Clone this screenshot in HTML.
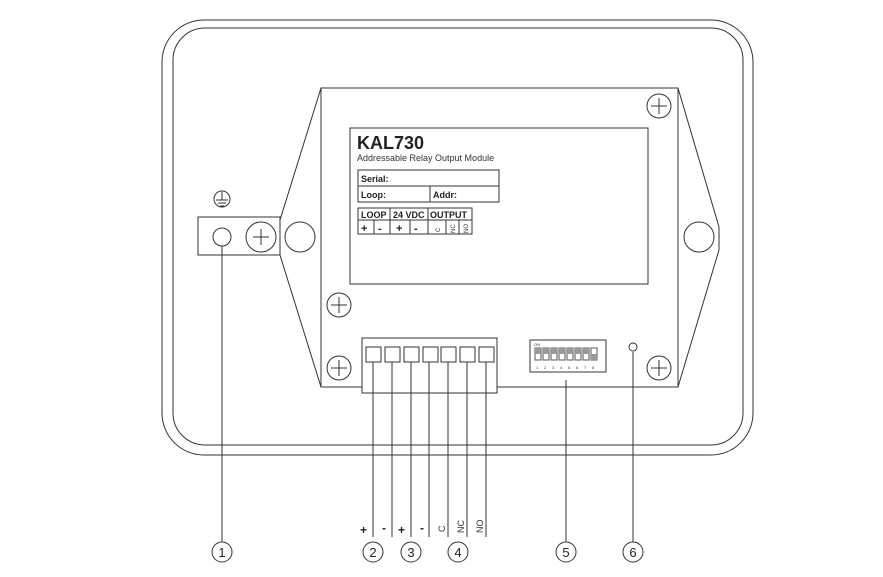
<!DOCTYPE html>
<html><head><style>body{margin:0;background:#fff}svg{display:block}</style></head><body>
<svg width="883" height="577" viewBox="0 0 883 577" xmlns="http://www.w3.org/2000/svg" font-family="Liberation Sans, sans-serif">
<g fill="none" stroke="#333" stroke-width="1">
<rect x="162" y="20" width="591" height="435" rx="42"/>
<rect x="173" y="28" width="570" height="417" rx="32"/>
<polygon points="321,88 678,88 719,227 719,250 678,387 321,387 280,255 280,220"/>
<line x1="321" y1="88" x2="321" y2="387"/><line x1="678" y1="88" x2="678" y2="387"/>
<circle cx="300" cy="237" r="15"/><circle cx="699" cy="237" r="15"/>
<rect x="198" y="217" width="82" height="38" fill="#fff"/>
<circle cx="222" cy="237" r="9"/><circle cx="261" cy="237" r="15"/>
<path d="M253 237h16M261 229v16"/>
<circle cx="222" cy="199" r="8"/><path d="M222 192v8M216 200h12M218 203h8M220 206h4"/>
<rect x="350" y="128" width="298" height="156"/>
<g>
<circle cx="659" cy="106" r="12"/><path d="M651 106h16M659 98v16"/>
<circle cx="339" cy="305" r="12"/><path d="M331 305h16M339 297v16"/>
<circle cx="339" cy="368" r="12"/><path d="M331 368h16M339 360v16"/>
<circle cx="659" cy="368" r="12"/><path d="M651 368h16M659 360v16"/>
</g>
<rect x="358" y="170" width="141" height="32"/><line x1="358" y1="186" x2="499" y2="186"/><line x1="430" y1="186" x2="430" y2="202"/>
<rect x="358" y="208" width="114" height="26"/><line x1="358" y1="220" x2="472" y2="220"/>
<line x1="390" y1="208" x2="390" y2="234"/><line x1="428" y1="208" x2="428" y2="234"/>
<line x1="374" y1="220" x2="374" y2="234"/><line x1="410" y1="220" x2="410" y2="234"/><line x1="446" y1="220" x2="446" y2="234"/><line x1="459" y1="220" x2="459" y2="234"/>
<rect x="362" y="338" width="135" height="55" fill="#fff"/>
<rect x="366" y="347" width="15" height="15"/><rect x="385" y="347" width="15" height="15"/><rect x="404" y="347" width="15" height="15"/><rect x="423" y="347" width="15" height="15"/><rect x="441" y="347" width="15" height="15"/><rect x="460" y="347" width="15" height="15"/><rect x="479" y="347" width="15" height="15"/>
<path d="M373 362V537M392 362V537M411 362V537M429 362V537M448 362V537M467 362V537M486 362V537"/>
<path d="M222 246V542M566 380V542M633 352V542"/>
<circle cx="633" cy="347" r="4"/>
<rect x="530" y="340" width="76" height="32"/>
<g stroke="#555">
<rect x="535" y="348" width="6" height="12"/><rect x="543" y="348" width="6" height="12"/><rect x="551" y="348" width="6" height="12"/><rect x="559" y="348" width="6" height="12"/><rect x="567" y="348" width="6" height="12"/><rect x="575" y="348" width="6" height="12"/><rect x="583" y="348" width="6" height="12"/><rect x="591" y="348" width="6" height="12"/>
</g>
<circle cx="222" cy="552" r="10"/><circle cx="373" cy="552" r="10"/><circle cx="411" cy="552" r="10"/><circle cx="458" cy="552" r="10"/><circle cx="566" cy="552" r="10"/><circle cx="633" cy="552" r="10"/>
</g>
<g fill="#999"><rect x="535" y="348" width="6" height="6"/><rect x="543" y="348" width="6" height="6"/><rect x="551" y="348" width="6" height="6"/><rect x="559" y="348" width="6" height="6"/><rect x="567" y="348" width="6" height="6"/><rect x="575" y="348" width="6" height="6"/><rect x="583" y="348" width="6" height="6"/><rect x="591" y="354" width="6" height="6"/></g>
<g font-size="4" fill="#333"><text x="534" y="346">ON</text><text x="536" y="369">1</text><text x="544" y="369">2</text><text x="552" y="369">3</text><text x="560" y="369">4</text><text x="568" y="369">5</text><text x="576" y="369">6</text><text x="584" y="369">7</text><text x="592" y="369">8</text></g>
<text x="357" y="149" font-size="18" font-weight="bold" fill="#222">KAL730</text>
<text x="357" y="161" font-size="9" fill="#333">Addressable Relay Output Module</text>
<g font-size="9" font-weight="bold" fill="#222">
<text x="361" y="182">Serial:</text><text x="361" y="198">Loop:</text><text x="433" y="198">Addr:</text>
<text x="361" y="218">LOOP</text><text x="393" y="218">24 VDC</text><text x="430" y="218">OUTPUT</text>
<text x="361" y="232" font-size="11">+</text><text x="378" y="232" font-size="11">-</text><text x="396" y="232" font-size="11">+</text><text x="414" y="232" font-size="11">-</text>
</g>
<g font-size="6" fill="#333"><text transform="translate(440,232) rotate(-90)">C</text><text transform="translate(455,233) rotate(-90)">NC</text><text transform="translate(468,233) rotate(-90)">NO</text></g>
<g font-size="12" font-weight="bold" fill="#222"><text x="360" y="534">+</text><text x="382" y="532">-</text><text x="398" y="534">+</text><text x="420" y="532">-</text></g>
<g font-size="9" fill="#333"><text transform="translate(445,532) rotate(-90)">C</text><text transform="translate(464,533) rotate(-90)">NC</text><text transform="translate(483,533) rotate(-90)">NO</text></g>
<g font-size="13" fill="#222" text-anchor="middle"><text x="222" y="557">1</text><text x="373" y="557">2</text><text x="411" y="557">3</text><text x="458" y="557">4</text><text x="566" y="557">5</text><text x="633" y="557">6</text></g>
</svg>
</body></html>
